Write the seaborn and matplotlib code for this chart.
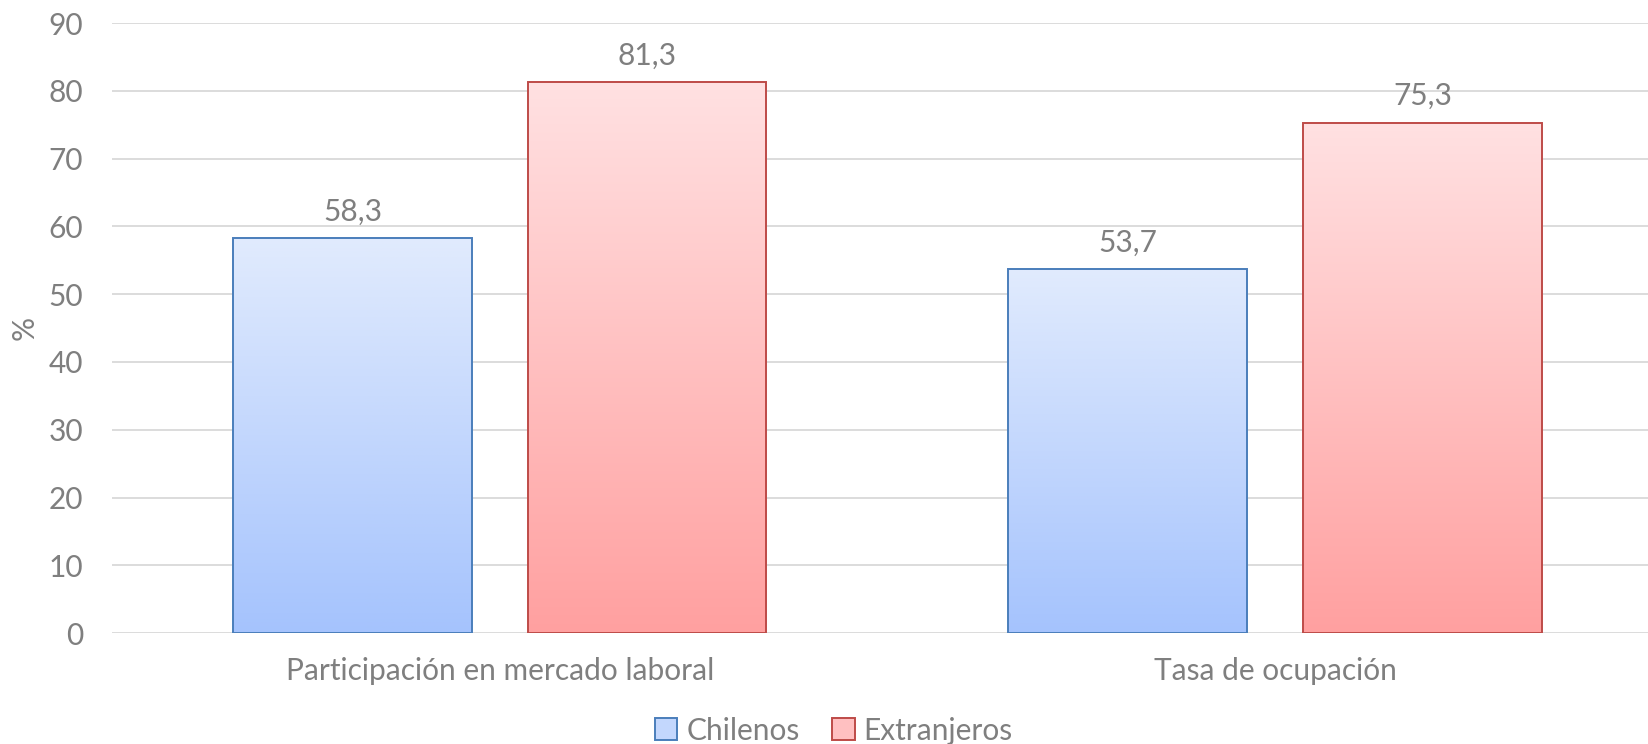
import matplotlib
matplotlib.use("Agg")
import matplotlib.pyplot as plt
import numpy as np
import pandas as pd
import seaborn as sns
from matplotlib.colors import LinearSegmentedColormap
from matplotlib.patches import Patch

categories = ["Participación en mercado laboral", "Tasa de ocupación"]
groups = ["Chilenos", "Extranjeros"]
chilenos = [58.3, 53.7]
extranjeros = [81.3, 75.3]

# top / bottom colours of the gradient fill, legend swatch, edge colour
fills = {"Chilenos": ("#E1EBFD", "#A5C3FD", "#C3D7FD", "#4A7EBB"),
         "Extranjeros": ("#FFE1E2", "#FFA0A0", "#FFC0C1", "#BE4B48")}
text_color = "#7F7F7F"
fsize = 21.5


def gradient_fill(ax, patch, top, bottom):
    """Paint a vertical gradient inside a bar patch and keep its edge on top."""
    x0, y0 = patch.get_x(), patch.get_y()
    w, h = patch.get_width(), patch.get_height()
    cmap = LinearSegmentedColormap.from_list("g", [bottom, top])
    grad = np.linspace(0, 1, 256).reshape(-1, 1)
    im = ax.imshow(grad, cmap=cmap, origin="lower", aspect="auto",
                   extent=[x0, x0 + w, y0, y0 + h], zorder=2)
    im.set_clip_path(patch)
    patch.set_facecolor("none")
    patch.set_zorder(3)


def main():
    df = pd.DataFrame({
        "Categoria": categories * 2,
        "Grupo": [groups[0]] * 2 + [groups[1]] * 2,
        "Valor": chilenos + extranjeros,
    })

    sns.set_style("white")
    plt.rcParams["font.family"] = ["Lato", "DejaVu Sans"]

    fig = plt.figure(figsize=(16.48, 7.44), dpi=100)
    ax = fig.add_axes([0.068, 0.149, 0.941, 0.820])

    sns.barplot(data=df, x="Categoria", y="Valor", hue="Grupo",
                hue_order=groups, width=0.76, gap=0.19, legend=False,
                linewidth=1.4, ax=ax)

    ax.set_xlim(-0.5, 1.5)
    ax.set_ylim(0, 90)
    ax.set_yticks(range(0, 91, 10))

    for container, grp in zip(ax.containers, groups):
        top, bottom, _, edge = fills[grp]
        for patch in container:
            patch.set_edgecolor(edge)
            gradient_fill(ax, patch, top, bottom)
        labels = [f"{v:.1f}".replace(".", ",") for v in container.datavalues]
        ax.bar_label(container, labels=labels, padding=9, fontsize=fsize,
                     color=text_color)

    ax.grid(axis="y", color="#D9D9D9", linewidth=1.3, zorder=0)
    ax.set_axisbelow(True)
    for s in ax.spines.values():
        s.set_visible(False)

    ax.tick_params(axis="y", length=0, pad=21, labelsize=fsize, labelcolor=text_color)
    ax.tick_params(axis="x", length=0, pad=17, labelsize=fsize, labelcolor=text_color)
    ax.set_xlabel("")
    ax.set_ylabel("%", fontsize=fsize, color=text_color, va="center")
    ax.yaxis.set_label_coords(-0.0565, 0.5)

    handles = [Patch(facecolor=fills[g][2], edgecolor=fills[g][3], linewidth=1.4, label=g)
               for g in groups]
    fig.legend(handles=handles, loc="center", bbox_to_anchor=(0.506, 0.018),
               ncol=2, frameon=False, fontsize=fsize, labelcolor=text_color,
               handlelength=0.75, handleheight=0.75, handletextpad=0.3,
               columnspacing=1.1)

    fig.savefig("out.png", dpi=100)


if __name__ == "__main__":
    main()
